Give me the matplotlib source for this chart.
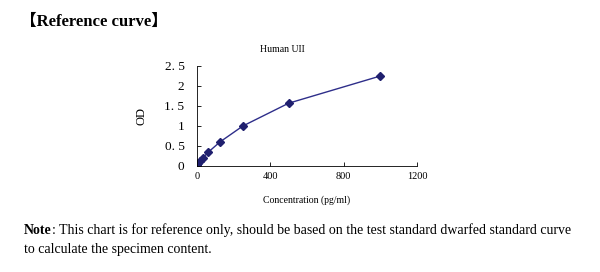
import matplotlib
matplotlib.use("Agg")
import matplotlib.pyplot as plt

conc = [0, 7.8, 15.6, 31.25, 62.5, 125, 250, 500, 1000]
od = [0.03, 0.08, 0.12, 0.2, 0.35, 0.6, 1.0, 1.57, 2.25]
y_ticks = [0, 0.5, 1, 1.5, 2, 2.5]
y_labels = ["0", "0. 5", "1", "1. 5", "2", "2. 5"]
x_ticks = [0, 400, 800, 1200]

serif = ["Liberation Serif", "Noto Sans CJK SC"]
plt.rcParams["font.family"] = serif

fig = plt.figure(figsize=(6, 2.72), dpi=100)
ax = fig.add_axes([197 / 600, 1 - 166 / 272, 220 / 600, 100 / 272])

ax.plot(conc, od, color="#2E2E8A", lw=1.0, marker="D", ms=4,
        markerfacecolor="#1F1F6E", markeredgecolor="#1F1F6E")
ax.set_xlim(0, 1200)
ax.set_ylim(0, 2.5)
ax.set_xticks(x_ticks)
ax.set_xticklabels([str(t) for t in x_ticks], fontsize=7.5)
ax.set_yticks(y_ticks)
ax.set_yticklabels(y_labels, fontsize=9.5)
ax.tick_params(axis="both", direction="in", length=3, width=0.6, pad=4)
ax.tick_params(axis="y", pad=9)
for s in ["top", "right"]:
    ax.spines[s].set_visible(False)
for s in ["left", "bottom"]:
    ax.spines[s].set_linewidth(0.6)

ax.set_xlabel("Concentration (pg/ml)", fontsize=7, labelpad=11)
ax.set_ylabel("OD", fontsize=9, labelpad=12)
fig.text(282 / 600, 1 - 50 / 272, "Human UII", fontsize=7, ha="center", va="center")

fig.text(20 / 600, 1 - 22 / 272, "【Reference curve】", fontsize=12,
         fontweight="bold", va="center", family=serif)

note = fig.text(24 / 600, 1 - 230 / 272, "Note", fontsize=10, fontweight="bold", va="center")
fig.canvas.draw()
bb = note.get_window_extent()
fig.text(bb.x1 / 600, 1 - 230 / 272,
         ": This chart is for reference only, should be based on the test standard dwarfed standard curve",
         fontsize=10, va="center")
fig.text(24 / 600, 1 - 250 / 272, "to calculate the specimen content.", fontsize=10, va="center")

fig.savefig("out.png", dpi=100)
